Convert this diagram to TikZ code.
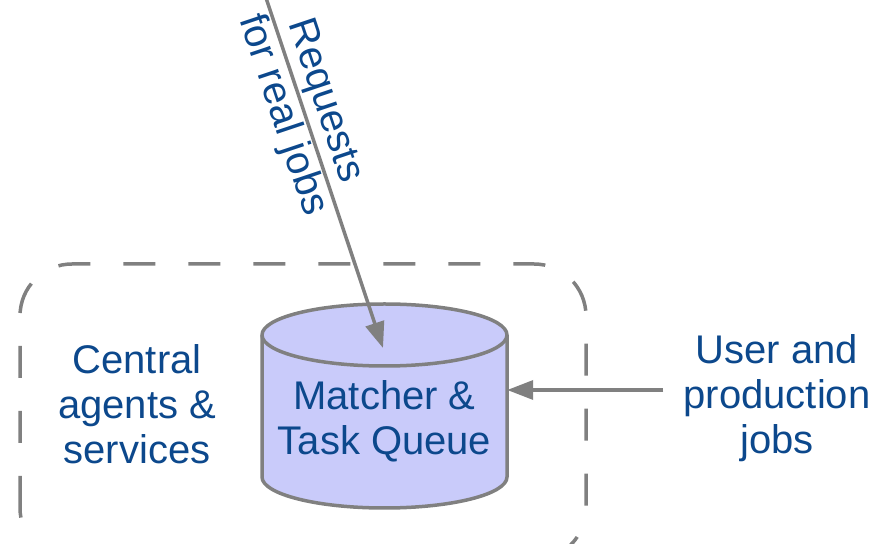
\documentclass[tikz,border=0pt]{standalone}
\usepackage{fontspec}
\setmainfont{Liberation Sans}
\usetikzlibrary{arrows.meta}
\definecolor{txtblue}{RGB}{12,72,140}
\definecolor{qfill}{RGB}{201,203,250}
\definecolor{lgray}{RGB}{128,128,128}

\begin{document}
\begin{tikzpicture}[x=1pt, y=1pt,
  lbl/.style={text=txtblue, align=center, font=\fontsize{40}{45}\selectfont, inner sep=0pt},
  cyl/.style={draw=lgray, fill=qfill, line width=3.5pt},
  group/.style={draw=lgray, line width=3.5pt, dash pattern=on 32pt off 33pt, rounded corners=52pt},
  feed/.style={draw=lgray, line width=3.5pt, -{Triangle[length=26pt,width=19pt]}}]
  \path[use as bounding box, clip] (0,0) rectangle (880,543);
  \draw[group] (20,-17) rectangle (586,279);
  % the queue as a cylinder
  \filldraw[cyl] (262,208) -- (262,66) arc[start angle=180, end angle=360, x radius=122.5, y radius=31]
    -- (507,208) arc[start angle=0, end angle=180, x radius=122.5, y radius=31] -- cycle;
  \draw[cyl, fill=none] (262,208) arc[start angle=180, end angle=360, x radius=122.5, y radius=31];
  \node[lbl, minimum width=245pt] (queue) at (384.5,121.5) {Matcher \&\\Task Queue};
  \node[lbl] (central) at (137,139) {Central\\agents \&\\services};
  \node[lbl] (user) at (777,145) {User and\\production\\jobs};
  \coordinate (req) at (265,548);
  \coordinate (qtop) at (383,195);
  % incoming work
  \draw[feed] (req) -- node[lbl, sloped, pos=0.32] {Requests\\for real jobs} (qtop);
  \draw[feed] ([shift={(-20pt,8pt)}]user.west) -- ([yshift=8pt]user.west -| queue.east);
\end{tikzpicture}
\end{document}
